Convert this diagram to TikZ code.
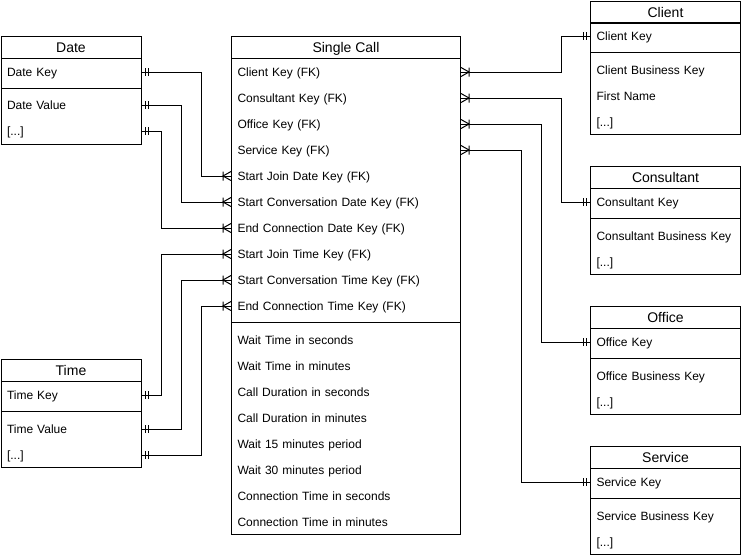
\documentclass[tikz,border=0pt]{standalone}
\usepackage{fontspec}
\setmainfont{Liberation Sans}
\begin{document}
\begin{tikzpicture}[x=1pt,y=-1pt,line width=1pt,
  ttl/.style={draw,anchor=north west,minimum height=22pt,inner sep=0pt,font=\fontsize{14}{16}\selectfont,text height=10pt,text depth=0pt},
  sec/.style={draw,anchor=north west,inner sep=0pt},
  row/.style={anchor=west,inner xsep=6pt,inner ysep=0pt,align=left,font=\fontsize{12}{14}\selectfont,text height=8.6pt,text depth=0pt},
  dw/.style={text width=128pt},
  sw/.style={text width=217pt},
  rw/.style={text width=138pt},
  link/.style={draw,line width=1pt},
  onebar/.pic={\draw (4,-4)--(4,4) (7,-4)--(7,4);},
  many/.pic={\draw (0,-4.5)--(8,0)--(0,4.5) (8,-4.5)--(8,4.5);}
]
\useasboundingbox (0,0) rectangle (741,558);

% ---------- Date ----------
\node[ttl,minimum width=140pt] (dateT) at (0.5,36) {Date};
\node[sec,minimum width=140pt,minimum height=30pt] (dateA) at (0.5,58) {};
\node[sec,minimum width=140pt,minimum height=56pt] (dateB) at (0.5,88) {};
\node[row,dw] (dKey) at (0.5,72) {Date Key};
\node[row,dw] (dVal) at (0.5,105) {Date Value};
\node[row,dw] (dEtc) at (0.5,131) {[...]};

% ---------- Time ----------
\node[ttl,minimum width=140pt] (timeT) at (0.5,359) {Time};
\node[sec,minimum width=140pt,minimum height=30pt] (timeA) at (0.5,381) {};
\node[sec,minimum width=140pt,minimum height=56pt] (timeB) at (0.5,411) {};
\node[row,dw] (tKey) at (0.5,395) {Time Key};
\node[row,dw] (tVal) at (0.5,429) {Time Value};
\node[row,dw] (tEtc) at (0.5,455) {[...]};

% ---------- Single Call ----------
\node[ttl,minimum width=229pt] (scT) at (231,36) {Single Call};
\node[sec,minimum width=229pt,minimum height=264pt] (scA) at (231,58) {};
\node[sec,minimum width=229pt,minimum height=212pt] (scB) at (231,322) {};
\node[row,sw] (scCl) at (231,72) {Client Key (FK)};
\node[row,sw] (scCo) at (231,98) {Consultant Key (FK)};
\node[row,sw] (scOf) at (231,124) {Office Key (FK)};
\node[row,sw] (scSe) at (231,150) {Service Key (FK)};
\node[row,sw] (scSJD) at (231,176) {Start Join Date Key (FK)};
\node[row,sw] (scSCD) at (231,202) {Start Conversation Date Key (FK)};
\node[row,sw] (scECD) at (231,228) {End Connection Date Key (FK)};
\node[row,sw] (scSJT) at (231,254) {Start Join Time Key (FK)};
\node[row,sw] (scSCT) at (231,280) {Start Conversation Time Key (FK)};
\node[row,sw] (scECT) at (231,306) {End Connection Time Key (FK)};
\node[row,sw] (m1) at (231,340) {Wait Time in seconds};
\node[row,sw] (m2) at (231,366) {Wait Time in minutes};
\node[row,sw] (m3) at (231,392) {Call Duration in seconds};
\node[row,sw] (m4) at (231,418) {Call Duration in minutes};
\node[row,sw] (m5) at (231,444) {Wait 15 minutes period};
\node[row,sw] (m6) at (231,470) {Wait 30 minutes period};
\node[row,sw] (m7) at (231,496) {Connection Time in seconds};
\node[row,sw] (m8) at (231,522) {Connection Time in minutes};

% ---------- Client ----------
\node[ttl,minimum width=150pt] (clT) at (590,1) {Client};
\node[sec,minimum width=150pt,minimum height=30pt] (clA) at (590,22) {};
\node[sec,minimum width=150pt,minimum height=82pt] (clB) at (590,52) {};
\node[row,rw] (clKey) at (590,36) {Client Key};
\node[row,rw] (clBK) at (590,70) {Client Business Key};
\node[row,rw] (clFN) at (590,96) {First Name};
\node[row,rw] (clEtc) at (590,122) {[...]};

% ---------- Consultant ----------
\node[ttl,minimum width=150pt] (coT) at (590,166) {Consultant};
\node[sec,minimum width=150pt,minimum height=30pt] (coA) at (590,188) {};
\node[sec,minimum width=150pt,minimum height=56pt] (coB) at (590,218) {};
\node[row,rw] (coKey) at (590,202) {Consultant Key};
\node[row,rw] (coBK) at (590,236) {Consultant Business Key};
\node[row,rw] (coEtc) at (590,262) {[...]};

% ---------- Office ----------
\node[ttl,minimum width=150pt] (ofT) at (590,306) {Office};
\node[sec,minimum width=150pt,minimum height=30pt] (ofA) at (590,328) {};
\node[sec,minimum width=150pt,minimum height=56pt] (ofB) at (590,358) {};
\node[row,rw] (ofKey) at (590,342) {Office Key};
\node[row,rw] (ofBK) at (590,376) {Office Business Key};
\node[row,rw] (ofEtc) at (590,402) {[...]};

% ---------- Service ----------
\node[ttl,minimum width=150pt] (seT) at (590,446) {Service};
\node[sec,minimum width=150pt,minimum height=30pt] (seA) at (590,468) {};
\node[sec,minimum width=150pt,minimum height=56pt] (seB) at (590,498) {};
\node[row,rw] (seKey) at (590,482) {Service Key};
\node[row,rw] (seBK) at (590,516) {Service Business Key};
\node[row,rw] (seEtc) at (590,542) {[...]};

% ---------- connectors: Date ----------
\draw[link] (dKey.east) -- ++(60,0) |- (scSJD.west);
\draw[link] (dVal.east) -- ++(40,0) |- (scSCD.west);
\draw[link] (dEtc.east) -- ++(20,0) |- (scECD.west);
\pic at (dKey.east) {onebar};
\pic at (dVal.east) {onebar};
\pic at (dEtc.east) {onebar};
\pic[xscale=-1] at (scSJD.west) {many};
\pic[xscale=-1] at (scSCD.west) {many};
\pic[xscale=-1] at (scECD.west) {many};

% ---------- connectors: Time ----------
\draw[link] (tKey.east) -- ++(20,0) |- (scSJT.west);
\draw[link] (tVal.east) -- ++(40,0) |- (scSCT.west);
\draw[link] (tEtc.east) -- ++(60,0) |- (scECT.west);
\pic at (tKey.east) {onebar};
\pic at (tVal.east) {onebar};
\pic at (tEtc.east) {onebar};
\pic[xscale=-1] at (scSJT.west) {many};
\pic[xscale=-1] at (scSCT.west) {many};
\pic[xscale=-1] at (scECT.west) {many};

% ---------- connectors: right side ----------
\draw[link] (scCl.east) -- ++(100,0) |- (clKey.west);
\draw[link] (scCo.east) -- ++(100,0) |- (coKey.west);
\draw[link] (scOf.east) -- ++(80,0) |- (ofKey.west);
\draw[link] (scSe.east) -- ++(60,0) |- (seKey.west);
\pic at (scCl.east) {many};
\pic at (scCo.east) {many};
\pic at (scOf.east) {many};
\pic at (scSe.east) {many};
\pic[xscale=-1] at (clKey.west) {onebar};
\pic[xscale=-1] at (coKey.west) {onebar};
\pic[xscale=-1] at (ofKey.west) {onebar};
\pic[xscale=-1] at (seKey.west) {onebar};
\end{tikzpicture}
\end{document}
